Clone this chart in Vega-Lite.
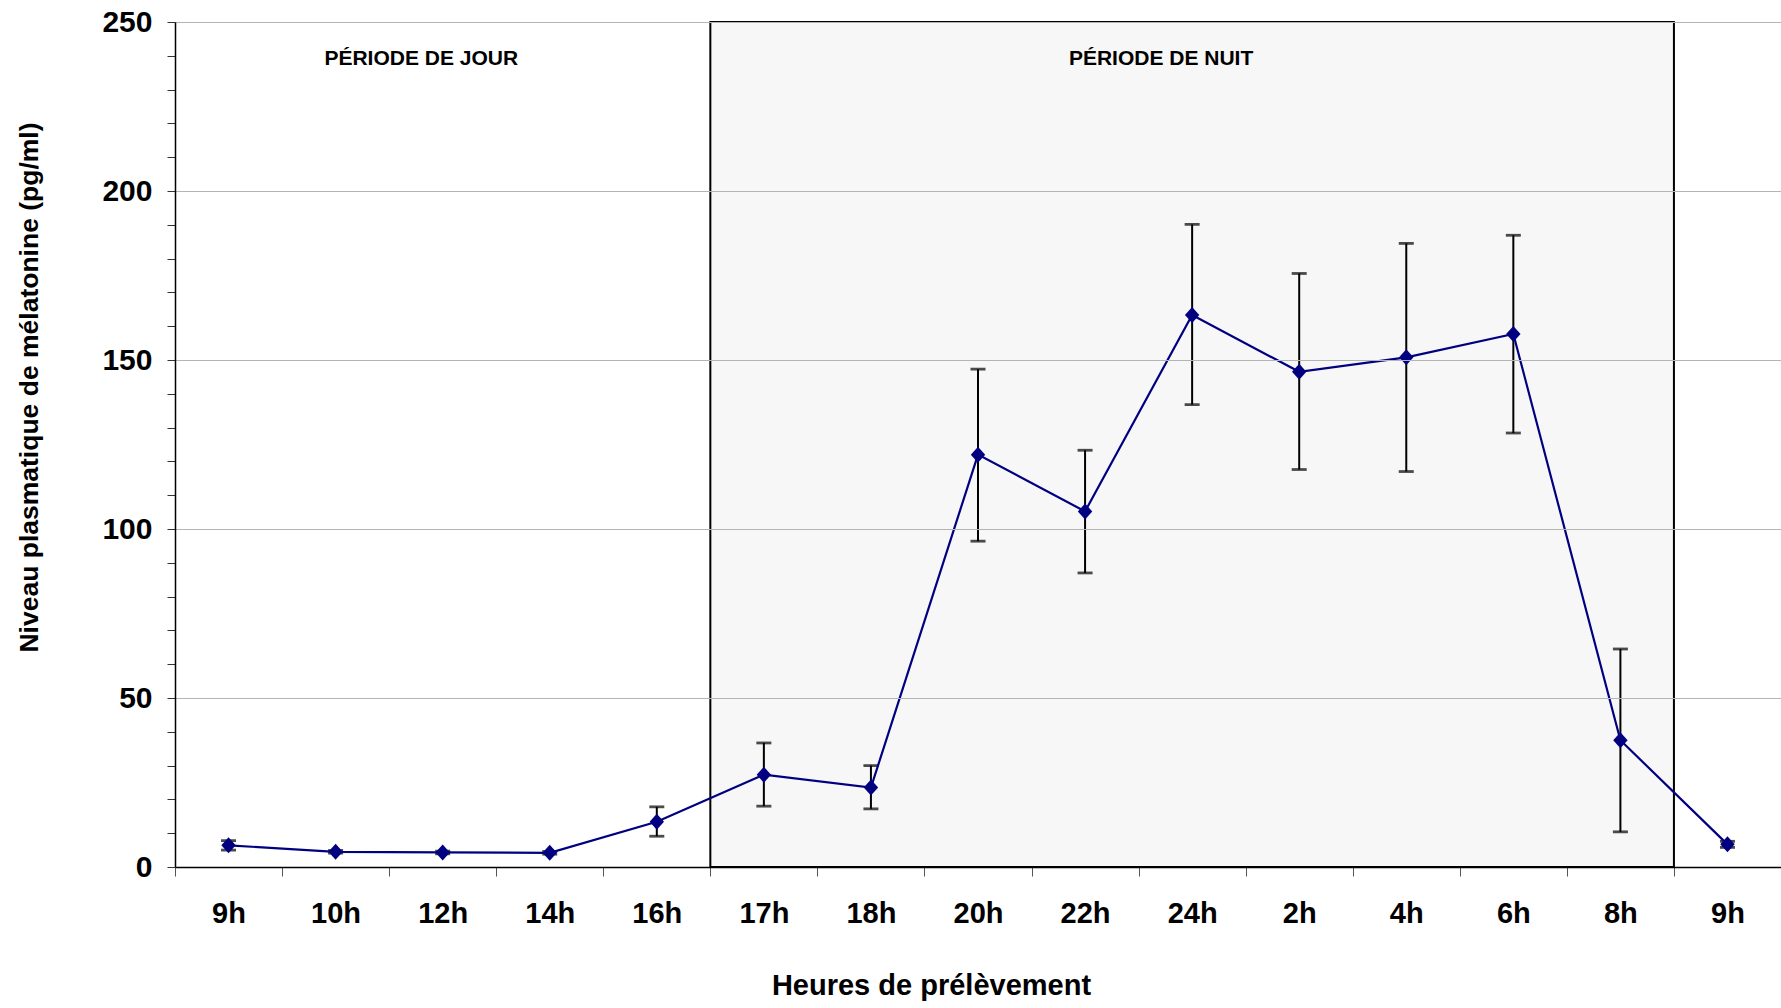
{
  "$schema": "https://vega.github.io/schema/vega-lite/v6.json",
  "autosize": "none",
  "padding": {"left": 175, "top": 22, "right": 0, "bottom": 141},
  "width": 1606,
  "height": 845,
  "background": "white",
  "config": {
    "font": "Liberation Sans",
    "view": {"stroke": null},
    "axis": {"labelFont": "Liberation Sans", "titleFont": "Liberation Sans", "labelFontWeight": "bold", "titleFontWeight": "bold", "labelColor": "black", "titleColor": "black"},
    "axisY": {"labelOverlap": false}
  },
  "datasets": {
    "melatonine": [
      {"prelevement": "9h", "moyenne": 6.4, "bas": 5.0, "haut": 7.8},
      {"prelevement": "10h", "moyenne": 4.5, "bas": 4.1, "haut": 4.9},
      {"prelevement": "12h", "moyenne": 4.3, "bas": 3.9, "haut": 4.7},
      {"prelevement": "14h", "moyenne": 4.2, "bas": 3.8, "haut": 4.6},
      {"prelevement": "16h", "moyenne": 13.4, "bas": 9.1, "haut": 17.8},
      {"prelevement": "17h", "moyenne": 27.3, "bas": 18.0, "haut": 36.7},
      {"prelevement": "18h", "moyenne": 23.5, "bas": 17.2, "haut": 30.0},
      {"prelevement": "20h", "moyenne": 122.0, "bas": 96.4, "haut": 147.3},
      {"prelevement": "22h", "moyenne": 105.2, "bas": 87.0, "haut": 123.3},
      {"prelevement": "24h", "moyenne": 163.3, "bas": 136.8, "haut": 190.1},
      {"prelevement": "2h", "moyenne": 146.5, "bas": 117.6, "haut": 175.6},
      {"prelevement": "4h", "moyenne": 150.8, "bas": 117.0, "haut": 184.5},
      {"prelevement": "6h", "moyenne": 157.7, "bas": 128.4, "haut": 186.9},
      {"prelevement": "8h", "moyenne": 37.5, "bas": 10.4, "haut": 64.5},
      {"prelevement": "9h lendemain", "moyenne": 6.7, "bas": 5.8, "haut": 7.6}
    ],
    "periodeNuit": [
      {"debut": "17h", "fin": "8h", "bas": 0, "haut": 250}
    ],
    "periodes": [
      {"periode": "PÉRIODE DE JOUR", "repere": "12h", "niveau": 239},
      {"periode": "PÉRIODE DE NUIT", "repere": "24h", "niveau": 239}
    ]
  },
  "encoding": {
    "x": {
      "field": "prelevement",
      "type": "ordinal",
      "scale": {
        "domain": ["9h", "10h", "12h", "14h", "16h", "17h", "18h", "20h", "22h", "24h", "2h", "4h", "6h", "8h", "9h lendemain"],
        "paddingInner": 0,
        "paddingOuter": 0
      },
      "axis": {
        "title": "Heures de prélèvement",
        "titleFontSize": 29,
        "titleX": 756,
        "titleY": 118,
        "titleBaseline": "middle",
        "labelAngle": 0,
        "labelExpr": "split(datum.label, ' ')[0]",
        "labelFontSize": 29,
        "labelBaseline": "middle",
        "labelPadding": 37,
        "labelOverlap": false,
        "tickBand": "extent",
        "tickSize": 9,
        "tickColor": "#555555",
        "domainColor": "black",
        "domainWidth": 1.5,
        "grid": false,
        "zindex": 1
      }
    },
    "y": {
      "field": "moyenne",
      "type": "quantitative",
      "scale": {"domain": [0, 250], "nice": false},
      "axis": {
        "title": "Niveau plasmatique de mélatonine (pg/ml)",
        "titleFontSize": 26.5,
        "titleX": -146,
        "titleY": 365,
        "titleAngle": 270,
        "titleBaseline": "middle",
        "values": [0, 10, 20, 30, 40, 50, 60, 70, 80, 90, 100, 110, 120, 130, 140, 150, 160, 170, 180, 190, 200, 210, 220, 230, 240, 250],
        "labelExpr": "datum.value % 50 === 0 ? datum.label : ''",
        "labelFontSize": 30,
        "labelPadding": 15,
        "labelBaseline": "middle",
        "labelOverlap": false,
        "tickSize": 8,
        "tickColor": "#333333",
        "domainColor": "black",
        "domainWidth": 1.5,
        "grid": true,
        "gridColor": "#b4b4b4",
        "gridWidth": 1,
        "gridOpacity": {"condition": {"test": "datum.value % 50 === 0", "value": 1}, "value": 0},
        "zindex": 1
      }
    }
  },
  "layer": [
    {
      "data": {"name": "periodeNuit"},
      "mark": {"type": "rect", "fill": "#f7f7f7", "stroke": "black", "strokeWidth": 2},
      "encoding": {
        "x": {"field": "debut", "type": "ordinal", "bandPosition": 0},
        "x2": {"field": "fin", "bandPosition": 1},
        "y": {"field": "bas", "type": "quantitative"},
        "y2": {"field": "haut"}
      }
    },
    {
      "data": {"name": "melatonine"},
      "mark": {"type": "rule", "color": "black", "strokeWidth": 2},
      "encoding": {
        "y": {"field": "bas", "type": "quantitative"},
        "y2": {"field": "haut"}
      }
    },
    {
      "data": {"name": "melatonine"},
      "mark": {"type": "tick", "color": "black", "thickness": 2.8, "size": 15},
      "encoding": {"y": {"field": "bas", "type": "quantitative"}}
    },
    {
      "data": {"name": "melatonine"},
      "mark": {"type": "tick", "color": "black", "thickness": 2.8, "size": 15},
      "encoding": {"y": {"field": "haut", "type": "quantitative"}}
    },
    {
      "data": {"name": "melatonine"},
      "mark": {"type": "line", "color": "#000080", "strokeWidth": 2.2},
      "encoding": {}
    },
    {
      "data": {"name": "melatonine"},
      "mark": {"type": "point", "shape": "M0,-1L0.9,0L0,1L-0.9,0Z", "filled": true, "size": 256, "color": "#000080", "opacity": 1},
      "encoding": {}
    },
    {
      "data": {"name": "periodes"},
      "transform": [{"filter": "datum.repere === '12h'"}],
      "mark": {"type": "text", "font": "Liberation Sans", "fontWeight": "bold", "fontSize": 21, "color": "black", "baseline": "middle", "align": "center"},
      "encoding": {
        "x": {"field": "repere", "type": "ordinal", "bandPosition": 0.3},
        "y": {"field": "niveau", "type": "quantitative"},
        "text": {"field": "periode"}
      }
    },
    {
      "data": {"name": "periodes"},
      "transform": [{"filter": "datum.repere === '24h'"}],
      "mark": {"type": "text", "font": "Liberation Sans", "fontWeight": "bold", "fontSize": 21, "color": "black", "baseline": "middle", "align": "center"},
      "encoding": {
        "x": {"field": "repere", "type": "ordinal", "bandPosition": 0.21},
        "y": {"field": "niveau", "type": "quantitative"},
        "text": {"field": "periode"}
      }
    }
  ]
}
